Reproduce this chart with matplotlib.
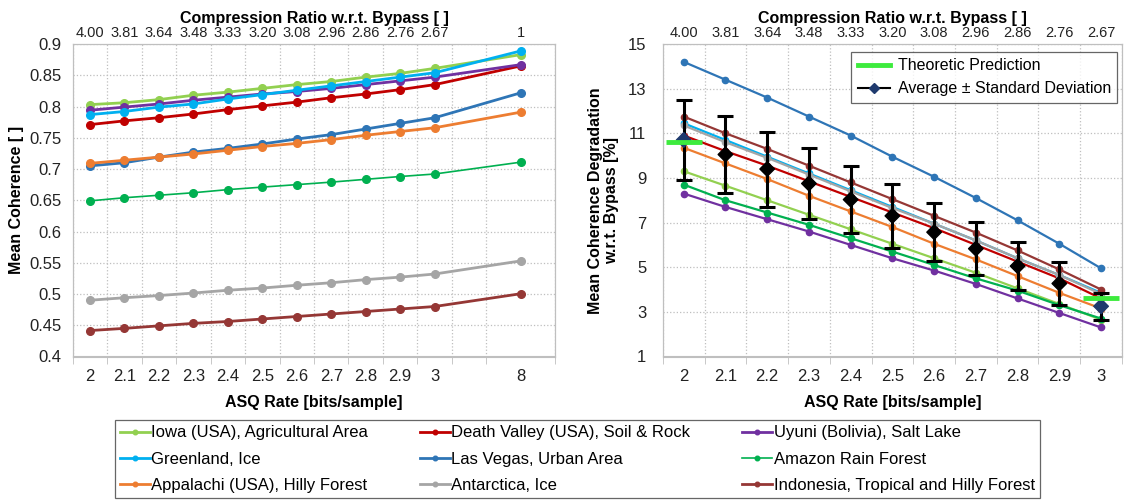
import numpy as np
import matplotlib
matplotlib.use('Agg')
import matplotlib.pyplot as plt
from matplotlib.lines import Line2D

plt.rcParams['font.family'] = ['Liberation Sans', 'DejaVu Sans']

# x categories
rate_labels = ['2', '2.1', '2.2', '2.3', '2.4', '2.5', '2.6', '2.7', '2.8', '2.9', '3']
rate_labels_left = rate_labels + ['8']
ratio_labels = ['4.00', '3.81', '3.64', '3.48', '3.33', '3.20', '3.08', '2.96', '2.86', '2.76', '2.67']
ratio_labels_left = ratio_labels + ['1']

# mean coherence (left)
iowa = [0.803, 0.806, 0.811, 0.818, 0.823, 0.829, 0.835, 0.840, 0.847, 0.853, 0.861, 0.883]
death_valley = [0.771, 0.777, 0.782, 0.788, 0.795, 0.801, 0.807, 0.814, 0.820, 0.827, 0.835, 0.865]
uyuni = [0.794, 0.799, 0.804, 0.810, 0.815, 0.820, 0.824, 0.829, 0.835, 0.841, 0.847, 0.867]
greenland = [0.787, 0.792, 0.799, 0.804, 0.812, 0.819, 0.826, 0.833, 0.840, 0.847, 0.854, 0.889]
las_vegas = [0.705, 0.710, 0.719, 0.727, 0.733, 0.740, 0.748, 0.755, 0.764, 0.773, 0.782, 0.822]
amazon = [0.649, 0.654, 0.658, 0.662, 0.667, 0.671, 0.675, 0.679, 0.6835, 0.688, 0.692, 0.711]
appalachi = [0.709, 0.714, 0.719, 0.724, 0.730, 0.736, 0.741, 0.747, 0.754, 0.760, 0.766, 0.791]
antarctica = [0.490, 0.494, 0.4975, 0.5015, 0.506, 0.5095, 0.514, 0.518, 0.523, 0.527, 0.532, 0.553]
indonesia = [0.4415, 0.445, 0.449, 0.453, 0.456, 0.460, 0.464, 0.468, 0.472, 0.476, 0.480, 0.5005]

# degradation w.r.t. bypass [%] (right)
deg_iowa = [9.3, 8.65, 8.0, 7.35, 6.7, 6.05, 5.4, 4.75, 4.05, 3.35, 2.65]
deg_death_valley = [10.9, 10.2, 9.55, 8.85, 8.15, 7.45, 6.75, 6.0, 5.25, 4.5, 3.6]
deg_uyuni = [8.3, 7.7, 7.15, 6.6, 6.0, 5.4, 4.85, 4.25, 3.6, 2.95, 2.3]
deg_greenland = [11.45, 10.7, 9.95, 9.2, 8.45, 7.7, 6.95, 6.2, 5.4, 4.65, 3.85]
deg_las_vegas = [14.2, 13.4, 12.6, 11.75, 10.9, 9.95, 9.05, 8.1, 7.1, 6.05, 4.95]
deg_amazon = [8.7, 8.0, 7.45, 6.9, 6.3, 5.7, 5.1, 4.5, 3.95, 3.3, 2.7]
deg_appalachi = [10.35, 9.65, 8.95, 8.2, 7.5, 6.8, 6.05, 5.35, 4.6, 3.85, 3.15]
deg_antarctica = [11.35, 10.6, 9.9, 9.15, 8.4, 7.65, 6.95, 6.2, 5.4, 4.65, 3.8]
deg_indonesia = [11.75, 11.0, 10.3, 9.55, 8.8, 8.05, 7.3, 6.55, 5.75, 4.9, 4.0]

avg_deg = [10.7, 10.05, 9.4, 8.75, 8.03, 7.3, 6.57, 5.83, 5.05, 4.27, 3.25]
std_deg = [1.8, 1.74, 1.68, 1.6, 1.5, 1.45, 1.3, 1.18, 1.08, 0.96, 0.6]

theory_labels = ['2', '3']
theory_deg = [10.6, 3.6]

names = ['Iowa (USA), Agricultural Area', 'Death Valley (USA), Soil & Rock', 'Uyuni (Bolivia), Salt Lake',
         'Greenland, Ice', 'Las Vegas, Urban Area', 'Amazon Rain Forest',
         'Appalachi (USA), Hilly Forest', 'Antarctica, Ice', 'Indonesia, Tropical and Hilly Forest']
colors = ['#92D050', '#C00000', '#7030A0', '#00B0F0', '#2E75B6', '#00B050', '#ED7D31', '#A5A5A5', '#953735']
left_series = [iowa, death_valley, uyuni, greenland, las_vegas, amazon, appalachi, antarctica, indonesia]
right_series = [deg_iowa, deg_death_valley, deg_uyuni, deg_greenland, deg_las_vegas, deg_amazon,
                deg_appalachi, deg_antarctica, deg_indonesia]

grid_c = '#BFBFBF'
spine_c = '#BFBFBF'

fig = plt.figure(figsize=(11.35, 5), dpi=100)
ax1 = fig.add_axes([0.0639, 0.287, 0.4255, 0.625])
ax2 = fig.add_axes([0.584, 0.287, 0.4045, 0.625])

# left: "8" sits out beyond the 2..3 range
pos_l = np.r_[np.arange(len(rate_labels)), 12.5]
pos_r = np.arange(len(rate_labels))

handles = []
for name, col, ys in zip(names, colors, left_series):
    lw = 1.2 if name == 'Amazon Rain Forest' else 2
    h, = ax1.plot(pos_l, ys, color=col, lw=lw, marker='o', ms=5.5, label=name)
    handles.append(h)

for name, col, ys in zip(names, colors, right_series):
    ax2.plot(pos_r, ys, color=col, lw=1.6, marker='o', ms=4.5)

ax2.errorbar(pos_r, avg_deg, yerr=std_deg, fmt='none', ecolor='black', elinewidth=2.2,
             capsize=6, capthick=2.2, zorder=5)
avg_cols = ['#1F3A6E'] + ['black'] * (len(avg_deg) - 2) + ['#1F3A6E']
ax2.scatter(pos_r, avg_deg, marker='D', s=55, c=avg_cols, zorder=6)
theory_pos = [rate_labels.index(t) for t in theory_labels]
ax2.plot(theory_pos, theory_deg, ls='none', marker='_', ms=26, mew=3.5, color='#3DEB3D', zorder=7)

# axes styling
for ax, xmax in [(ax1, 13.5), (ax2, 10.5)]:
    ax.set_xlim(-0.5, xmax)
    ax.set_xticks(np.arange(-0.5, xmax + 0.01, 1), minor=True)
    ax.tick_params(axis='x', which='major', length=0, pad=9, labelsize=12, labelcolor='#222222')
    ax.tick_params(axis='x', which='minor', length=5, color=spine_c)
    ax.tick_params(axis='y', length=0, labelsize=12, labelcolor='#222222')
    ax.grid(True, which='minor', axis='x', ls=':', color=grid_c, lw=0.9)
    ax.grid(True, which='major', axis='y', ls=':', color=grid_c, lw=0.9)
    for s in ax.spines.values():
        s.set_color(spine_c)
    ax.set_xlabel('ASQ Rate [bits/sample]', fontweight='bold', fontsize=11.5, labelpad=8)

ax1.set_xticks(pos_l)
ax1.set_xticklabels(rate_labels_left)
ax1.set_ylim(0.4, 0.9)
yt1 = np.arange(0.4, 0.9001, 0.05)
ax1.set_yticks(yt1)
ax1.set_yticklabels(['%g' % round(v, 2) for v in yt1])
ax1.tick_params(axis='y', pad=8)
ax1.set_ylabel('Mean Coherence [ ]', fontweight='bold', fontsize=11.5, labelpad=4)

ax2.set_xticks(pos_r)
ax2.set_xticklabels(rate_labels)
ax2.set_ylim(1, 15)
ax2.set_yticks(np.arange(1, 16, 2))
ax2.tick_params(axis='y', pad=12)
ax2.set_ylabel('Mean Coherence Degradation\nw.r.t. Bypass [%]', fontweight='bold', fontsize=11.5,
               labelpad=6, linespacing=1.1)

# top axes with compression ratio
for ax, pos, labs in [(ax1, pos_l, ratio_labels_left), (ax2, pos_r, ratio_labels)]:
    top = ax.twiny()
    top.set_xlim(ax.get_xlim())
    top.set_xticks(pos)
    top.set_xticklabels(labs)
    top.tick_params(axis='x', length=0, pad=3, labelsize=10.5, labelcolor='#222222')
    for s in top.spines.values():
        s.set_color(spine_c)
    top.set_xlabel('Compression Ratio w.r.t. Bypass [ ]', fontweight='bold', fontsize=11.5, labelpad=2)

# right legend
leg_h = [Line2D([], [], color='#3DEB3D', lw=3.5),
         Line2D([], [], color='black', lw=1.5, marker='D', ms=5, mfc='#1F3A6E', mec='#1F3A6E')]
lg = ax2.legend(leg_h, ['Theoretic Prediction', 'Average ± Standard Deviation'], loc='upper right',
                bbox_to_anchor=(1.0, 0.99), fontsize=11.5, fancybox=False, edgecolor='#404040',
                handlelength=2, handletextpad=0.5, borderaxespad=0.3)
lg.get_frame().set_linewidth(0.9)
lg.set_zorder(10)

# bottom legend, order column-wise so rows read like the reference
order = [0, 3, 6, 1, 4, 7, 2, 5, 8]
flg = fig.legend([handles[i] for i in order], [names[i] for i in order], ncol=3,
                 loc='lower left', bbox_to_anchor=(0.101, 0.004, 0.815, 0.16), mode='expand',
                 fontsize=12, fancybox=False, edgecolor='#404040', handlelength=1.8,
                 handletextpad=0.1, labelspacing=0.68, borderaxespad=0, borderpad=0.3,
                 markerscale=0.6)
flg.get_frame().set_linewidth(0.9)

fig.savefig('out.png', dpi=100)
